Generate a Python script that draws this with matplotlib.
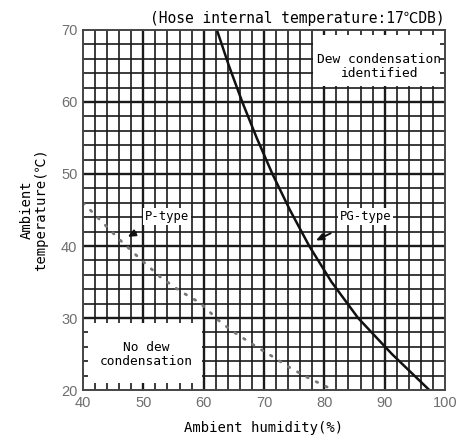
import numpy as np
import matplotlib
matplotlib.use("Agg")
import matplotlib.pyplot as plt
from matplotlib.patches import Rectangle

## data
pg_hum = [62.2, 64.2, 66.4, 68.8, 71.4, 74.3, 77.5, 81.2, 85.6, 91.2, 97.4]
pg_temp = [70, 65, 60, 55, 50, 45, 40, 35, 30, 25, 20]

p_hum = [40.0, 43.1, 45.8, 49.1, 52.8, 56.0, 59.4, 62.7, 64.9, 68.2, 71.5, 74.3, 77.1, 79.5, 81.5]
p_temp = [46.0, 43.4, 41.1, 38.5, 35.7, 33.8, 32.1, 29.5, 28.1, 26.3, 24.6, 23.1, 21.8, 20.8, 20.0]

xticks = [40, 50, 60, 70, 80, 90, 100]
yticks = [20, 30, 40, 50, 60, 70]

mono = ["DejaVu Sans Mono", "Noto Sans CJK JP"]

fig = plt.figure(figsize=(4.57, 4.47), dpi=100)
ax = fig.add_axes([0.1816, 0.1275, 0.7921, 0.8054])
ax.set_xlim(40, 100)
ax.set_ylim(20, 70)

# grid every 2 units
for x in np.arange(42, 100, 2):
    ax.axvline(x, color="#1a1a1a", lw=1.7 if x % 10 == 0 else 1.2, zorder=1)
for y in np.arange(22, 70, 2):
    ax.axhline(y, color="#1a1a1a", lw=1.7 if y % 10 == 0 else 1.2, zorder=1)

# white label boxes over the grid
ax.add_patch(Rectangle((78.2, 62.2), 99.2 - 78.2, 69.3 - 62.2, facecolor="white", edgecolor="none", zorder=2))
ax.add_patch(Rectangle((40.8, 21.0), 59.8 - 40.8, 29.3 - 21.0, facecolor="white", edgecolor="none", zorder=2))

ax.plot(pg_hum, pg_temp, color="#111111", lw=1.8, zorder=4)
ax.plot(p_hum, p_temp, color="#777777", lw=2.0, linestyle=(0, (0.6, 3.2)), dash_capstyle="round", zorder=4)

ax.text(89.1, 64.9, "Dew condensation\nidentified", family=mono, fontsize=9.3, ha="center", va="center",
        linespacing=1.1, zorder=5)
ax.text(50.5, 24.9, "No dew\ncondensation", family=mono, fontsize=9.3, ha="center", va="center",
        linespacing=1.1, zorder=5)

arrow = dict(arrowstyle="-|>,head_length=0.5,head_width=0.22", color="#111111", lw=1.4)
ax.annotate("P-type", xy=(47.0, 41.1), xytext=(53.9, 44.1), family=mono, fontsize=8.8,
            ha="center", va="center", arrowprops=dict(arrow, shrinkA=12),
            bbox=dict(boxstyle="square,pad=0.15", fc="white", ec="none"), zorder=5)
ax.annotate("PG-type", xy=(78.2, 40.6), xytext=(86.8, 44.1), family=mono, fontsize=8.8,
            ha="center", va="center", arrowprops=dict(arrow, shrinkA=14),
            bbox=dict(boxstyle="square,pad=0.15", fc="white", ec="none"), zorder=5)

for s in ax.spines.values():
    s.set_color("#444444")
    s.set_linewidth(1.4)
    s.set_zorder(6)

ax.set_xticks(xticks)
ax.set_yticks(yticks)
ax.tick_params(length=0, pad=4, labelsize=10.5, labelcolor="#6e6e6e")
for lab in ax.get_xticklabels() + ax.get_yticklabels():
    lab.set_family("Liberation Sans")

ax.set_xlabel("Ambient humidity(%)", family=mono, fontsize=10, labelpad=8)
ax.set_ylabel("Ambient\ntemperature(\u2103)", family=mono, fontsize=10, labelpad=9, linespacing=1.05)

ax.set_title("(Hose internal temperature:17\u2103DB)", family=mono, fontsize=10.5, loc="right", pad=5)

fig.savefig("out.png", dpi=100)
